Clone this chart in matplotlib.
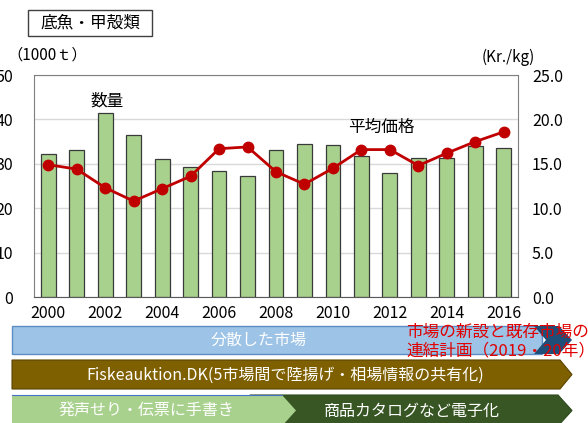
import numpy as np
import matplotlib.pyplot as plt
from matplotlib.patches import Polygon, Rectangle

plt.rcParams['font.family'] = ['Noto Sans CJK JP', 'DejaVu Sans']

# Landings (1000 t) and average price (Kr./kg) per year
years = list(range(2000, 2017))
volume = [32.3, 33.2, 41.4, 36.5, 31.0, 29.3, 28.4, 27.3, 33.2, 34.5,
          34.3, 31.7, 28.0, 31.2, 31.2, 34.0, 33.6]
price = [14.9, 14.4, 12.3, 10.8, 12.2, 13.6, 16.7, 16.9, 14.1, 12.7,
         14.5, 16.6, 16.6, 14.8, 16.2, 17.5, 18.6]
year_labels = [str(y) for y in years[::2]]

W, H = 588, 423
fig = plt.figure(figsize=(W / 100, H / 100), dpi=100)

# main chart area in pixel box
px_l, px_r, px_t, px_b = 34, 518, 75, 297
ax = fig.add_axes([px_l / W, 1 - px_b / H, (px_r - px_l) / W, (px_b - px_t) / H])
idx = np.arange(len(years))
ax.bar(idx, volume, width=0.52, color='#a9d18e', edgecolor='#3a3a3a', linewidth=0.9, zorder=2)
ax.set_xlim(-0.5, len(years) - 0.5)
ax.set_ylim(0, 50)
ax.set_yticks(range(0, 51, 10))
ax.set_xticks(idx[::2])
ax.set_xticklabels(year_labels)
ax.grid(axis='y', color='#d9d9d9', linewidth=1, zorder=0)
ax.set_axisbelow(True)
ax.tick_params(length=0, labelsize=11.5, colors='black')
ax.tick_params(axis='y', pad=15)
ax.tick_params(axis='x', pad=6)
for s in ['top', 'right', 'left']:
    ax.spines[s].set_color('#7f7f7f')
ax.spines['bottom'].set_color('#595959')

ax2 = ax.twinx()
ax2.plot(idx, price, color='#c00000', linewidth=2, marker='o', markersize=7.5, zorder=3)
ax2.set_ylim(0, 25)
ax2.set_yticks(np.arange(0, 26, 5))
ax2.set_yticklabels([f'{v:.1f}' for v in np.arange(0, 26, 5)])
ax2.tick_params(length=0, labelsize=11.5, pad=10)
for s in ax2.spines.values():
    s.set_visible(False)

# overlay in pixel coordinates for the annotations and timeline bands
ov = fig.add_axes([0, 0, 1, 1], zorder=5)
ov.set_xlim(0, W)
ov.set_ylim(H, 0)
ov.axis('off')

ov.add_patch(Rectangle((28, 10), 124, 26, fill=False, edgecolor='#404040', linewidth=1))
ov.text(90, 23, '底魚・甲殻類', ha='center', va='center', fontsize=12)
ov.text(7, 55, '（1000ｔ）', ha='left', va='center', fontsize=11)
ov.text(535, 57, '(Kr./kg)', ha='right', va='center', fontsize=11)
ov.text(107, 101, '数量', ha='center', va='center', fontsize=12)
ov.text(381, 127, '平均価格', ha='center', va='center', fontsize=12)


def arrow(x0, x1, y0, y1, tip=12, notch=0, **kw):
    ym = (y0 + y1) / 2
    pts = [(x0, y0), (x1 - tip, y0), (x1, ym), (x1 - tip, y1), (x0, y1)]
    if notch:
        pts.append((x0 + notch, ym))
    ov.add_patch(Polygon(pts, closed=True, **kw))


# distributed markets band
ov.add_patch(Rectangle((12, 326), 530, 28, facecolor='#9dc3e6', edgecolor='#5b8ec4', linewidth=1))
arrow(534, 572, 326, 354, tip=13, notch=12, facecolor='#1f4e79', edgecolor='none')
ov.text(259, 340, '分散した市場', ha='center', va='center', fontsize=11.5, color='white')
ov.text(406, 332, '市場の新設と既存市場の', ha='left', va='center', fontsize=12, color='#e00000')
ov.text(406, 351, '連結計画（2019・20年）', ha='left', va='center', fontsize=12, color='#e00000')

# Fiskeauktion.DK band
arrow(12, 572, 360, 389, tip=12, facecolor='#7f6000', edgecolor='#5a4500', linewidth=0.8)
ov.text(285, 375, 'Fiskeauktion.DK(5市場間で陸揚げ・相場情報の共有化)', ha='center', va='center',
        fontsize=11.5, color='white')

# auction method bands
arrow(250, 572, 395, 426, tip=14, facecolor='#375623', edgecolor='#2e4a1d', linewidth=0.8)
arrow(12, 296, 395, 426, tip=14, facecolor='#a9d18e', edgecolor='none')
ov.plot([12, 282], [395, 395], color='#4472c4', linewidth=0.8)
ov.text(146, 411, '発声せり・伝票に手書き', ha='center', va='center', fontsize=11.5, color='white')
ov.text(412, 411, '商品カタログなど電子化', ha='center', va='center', fontsize=11.5, color='white')

fig.savefig('out.png', dpi=100)
